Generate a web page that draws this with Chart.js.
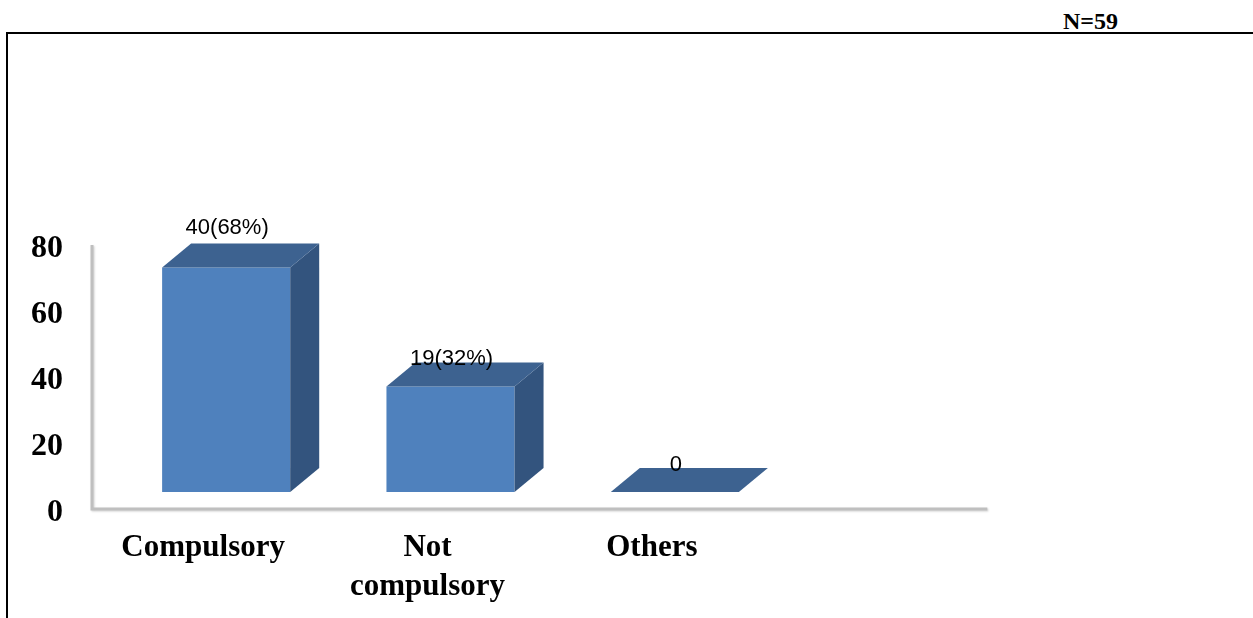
<!DOCTYPE html>
<html>
<head>
<meta charset="utf-8">
<script src="https://cdn.jsdelivr.net/npm/chart.js@4.4.1/dist/chart.umd.min.js"></script>
<style>
  html, body { margin: 0; padding: 0; background: #fff; }
  #frame {
    position: absolute; left: 6px; top: 32px; right: 0; bottom: 0;
    border-top: 2px solid #000; border-left: 2px solid #000;
  }
  #total {
    position: absolute; left: 1063px; top: 9px;
    font: bold 24px/24px "Liberation Serif", "Times New Roman", serif;
    color: #000;
  }
  #chart { position: absolute; left: 0; top: 0; }
</style>
</head>
<body>
<div id="frame"></div>
<div id="total">N=59</div>
<canvas id="chart" width="1253" height="618"></canvas>
<script>
const categories = ['Compulsory', ['Not', 'compulsory'], 'Others'];
const counts = [40, 19, 0];
const percents = [68, 32, 0];
const yTicks = [0, 20, 40, 60, 80];

// text shown above each box
function labelFor(i) {
  return counts[i] > 0 ? `${counts[i]}(${percents[i]}%)` : '0';
}

// side + top faces for the bars, plus the wall/floor lines and value labels
const boxes3d = {
  id: 'boxes3d',
  beforeDatasetsDraw(chart) {
    const { ctx, chartArea, scales: { x, y } } = chart;
    const shift = 17;
    const wallX = chartArea.left - 22;
    const floorY = y.getPixelForValue(0) + shift;
    const topY = y.getPixelForValue(yTicks[yTicks.length - 1]) + shift;
    const step = x.getPixelForValue(1) - x.getPixelForValue(0);
    const floorEnd = chartArea.right + step - 24;

    ctx.save();
    ctx.strokeStyle = '#bfbfbf';
    ctx.lineWidth = 3;
    ctx.shadowColor = 'rgba(0,0,0,0.18)';
    ctx.shadowBlur = 2;
    ctx.shadowOffsetX = 1;
    ctx.shadowOffsetY = 1;
    ctx.beginPath();
    ctx.moveTo(wallX, topY);
    ctx.lineTo(wallX, floorY);
    ctx.lineTo(floorEnd, floorY);
    ctx.stroke();
    ctx.restore();
  },
  afterDatasetsDraw(chart, args, opts) {
    const { ctx } = chart;
    const dx = opts.depthX, dy = opts.depthY;
    const meta = chart.getDatasetMeta(0);

    ctx.save();
    meta.data.forEach((bar, i) => {
      const { x, y, base, width } = bar.getProps(['x', 'y', 'base', 'width'], true);
      const l = x - width / 2, r = x + width / 2;

      // right side
      if (base - y > 0.5) {
        ctx.fillStyle = '#33547e';
        ctx.beginPath();
        ctx.moveTo(r, y);
        ctx.lineTo(r + dx, y + dy);
        ctx.lineTo(r + dx, base + dy);
        ctx.lineTo(r, base);
        ctx.closePath();
        ctx.fill();
      }

      // top
      ctx.fillStyle = '#3d6290';
      ctx.beginPath();
      ctx.moveTo(l, y);
      ctx.lineTo(l + dx, y + dy);
      ctx.lineTo(r + dx, y + dy);
      ctx.lineTo(r, y);
      ctx.closePath();
      ctx.fill();

      // value label
      ctx.fillStyle = '#000';
      ctx.font = '22px "Liberation Sans", Arial, sans-serif';
      ctx.textAlign = 'center';
      ctx.textBaseline = 'middle';
      ctx.fillText(labelFor(i), x + 1, y - opts.lift[i]);
    });
    ctx.restore();
  }
};

new Chart(document.getElementById('chart'), {
  type: 'bar',
  data: {
    labels: categories,
    datasets: [{
      data: percents,
      backgroundColor: '#4f81bd',
      borderWidth: 0,
      categoryPercentage: 1,
      barPercentage: 0.571
    }]
  },
  options: {
    responsive: false,
    animation: false,
    layout: { padding: { top: 228, right: 466, left: 0, bottom: 0 } },
    plugins: {
      legend: { display: false },
      tooltip: { enabled: false },
      boxes3d: { depthX: 29, depthY: -24, lift: [40, 27, 27] }
    },
    scales: {
      x: {
        grid: { display: false, drawTicks: false },
        border: { display: false },
        afterFit: s => { s.height = 126; },
        ticks: {
          padding: 37,
          labelOffset: -23,
          maxRotation: 0,
          autoSkip: false,
          color: '#000',
          font: { family: '"Liberation Serif", "Times New Roman", serif', size: 31, weight: 'bold', lineHeight: 1.25 }
        }
      },
      y: {
        min: 0,
        max: 80,
        grid: { display: false, drawTicks: false },
        border: { display: false },
        afterFit: s => { s.width = 114; },
        afterBuildTicks: s => { s.ticks = yTicks.map(v => ({ value: v })); },
        ticks: {
          padding: 51,
          labelOffset: 21,
          color: '#000',
          font: { family: '"Liberation Serif", "Times New Roman", serif', size: 32, weight: 'bold' }
        }
      }
    }
  },
  plugins: [boxes3d]
});
</script>
</body>
</html>
